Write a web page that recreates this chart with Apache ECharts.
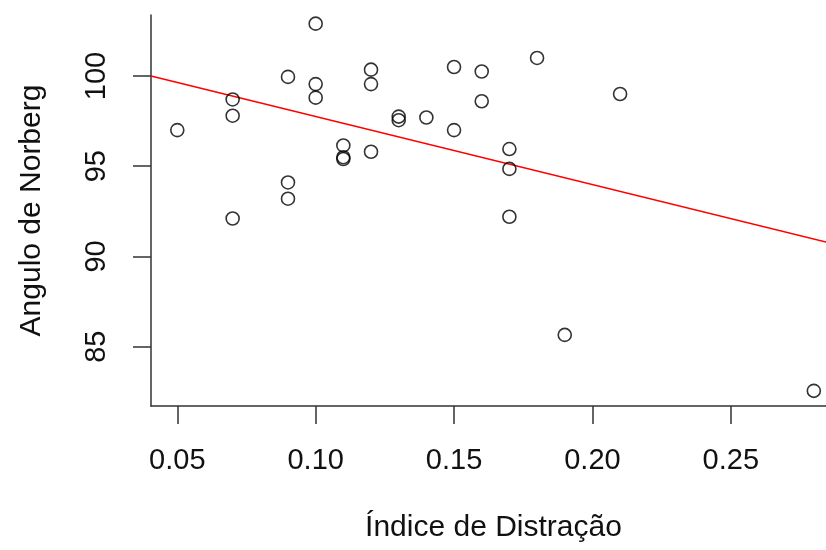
<!DOCTYPE html>
<html>
<head>
<meta charset="utf-8">
<script src="https://cdn.jsdelivr.net/npm/echarts@6/dist/echarts.min.js"></script>
<style>
  html, body { margin: 0; padding: 0; background: #fff; }
  #chart { width: 826px; height: 550px; }
</style>
</head>
<body>
<div id="chart"></div>
<script>
// Índice de Distração vs Angulo de Norberg
let xVals = [0.05, 0.07, 0.07, 0.07, 0.09, 0.09, 0.09, 0.10, 0.10, 0.10,
             0.11, 0.11, 0.11, 0.12, 0.12, 0.12, 0.13, 0.13, 0.14, 0.15,
             0.15, 0.16, 0.16, 0.17, 0.17, 0.17, 0.18, 0.19, 0.21, 0.28];
let yVals = [97.0, 98.7, 97.8, 92.1, 99.95, 94.1, 93.2, 102.9, 99.55, 98.8,
             96.15, 95.5, 95.4, 100.35, 99.55, 95.8, 97.75, 97.55, 97.7, 100.5,
             97.0, 100.25, 98.6, 95.95, 94.85, 92.2, 101.0, 85.65, 99.0, 82.55];
// regression line end points
let fitX = [0.0405, 0.2844];
let fitY = [100.0, 90.8];
let xTicks = [0.05, 0.10, 0.15, 0.20, 0.25];
let yTicks = [85, 90, 95, 100];

let points = xVals.map((x, i) => [x, yVals[i]]);
let fitLine = fitX.map((x, i) => [x, fitY[i]]);

let font = "'Liberation Sans', Arial, sans-serif";
let axisColor = '#333';

let chart = echarts.init(document.getElementById('chart'));
let option = {
    backgroundColor: '#fff',
    animation: false,
    grid: {
        left: 151,
        top: 15,
        right: 0,
        height: 391
    },
    xAxis: {
        type: 'value',
        min: 0.0405,
        max: 0.2844,
        name: 'Índice de Distração',
        nameLocation: 'middle',
        nameGap: 107,
        nameTextStyle: { fontFamily: font, fontSize: 30, color: '#111', padding: [0, 0, 0, 10] },
        splitLine: { show: false },
        axisLine: { show: true, onZero: false, lineStyle: { color: axisColor, width: 1.5 } },
        axisTick: { show: true, customValues: xTicks, length: 18, lineStyle: { color: axisColor, width: 1.5 } },
        axisLabel: {
            customValues: xTicks,
            margin: 40,
            fontFamily: font,
            fontSize: 29,
            color: '#111',
            formatter: v => v.toFixed(2)
        }
    },
    yAxis: {
        type: 'value',
        min: 81.71,
        max: 103.38,
        name: 'Angulo de Norberg',
        nameLocation: 'middle',
        nameGap: 104,
        nameRotate: 90,
        nameTextStyle: { fontFamily: font, fontSize: 30, color: '#111' },
        splitLine: { show: false },
        axisLine: { show: true, onZero: false, lineStyle: { color: axisColor, width: 1.5 } },
        axisTick: { show: true, customValues: yTicks, length: 18, lineStyle: { color: axisColor, width: 1.5 } },
        axisLabel: {
            customValues: yTicks,
            rotate: 90,
            margin: 40,
            fontFamily: font,
            fontSize: 29,
            color: '#111'
        }
    },
    series: [
        {
            type: 'scatter',
            data: points,
            symbol: 'circle',
            symbolSize: 13,
            itemStyle: {
                color: 'rgba(0,0,0,0)',
                borderColor: '#000',
                borderWidth: 1.6
            },
            z: 3
        },
        {
            type: 'line',
            data: fitLine,
            showSymbol: false,
            symbol: 'none',
            lineStyle: { color: '#ff0000', width: 1.5 },
            z: 2
        }
    ]
};
chart.setOption(option);
</script>
</body>
</html>
